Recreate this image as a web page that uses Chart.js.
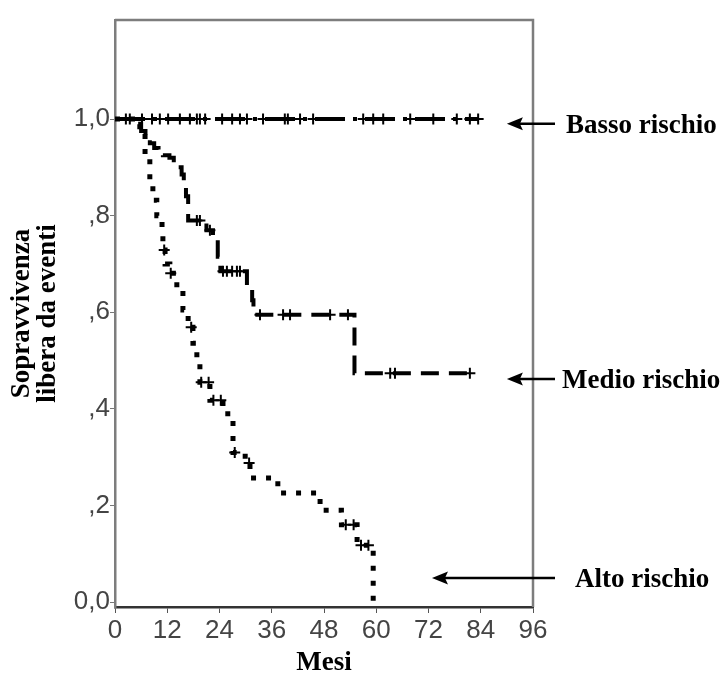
<!DOCTYPE html>
<html>
<head>
<meta charset="utf-8">
<script src="https://cdn.jsdelivr.net/npm/chart.js@4.4.1/dist/chart.umd.min.js"></script>
<style>
  html, body { margin: 0; padding: 0; background: #fff; }
</style>
</head>
<body>
<canvas id="km" width="726" height="681"></canvas>
<script>
// tick labels
const xTicks = [0, 12, 24, 36, 48, 60, 72, 84, 96];
const yTicks = [0, 0.2, 0.4, 0.6, 0.8, 1.0];
const yTickLabels = ['0,0', ',2', ',4', ',6', ',8', '1,0'];

// Basso rischio: nessun evento
const bassoMesi = [0, 83.4];
const bassoSurv = [1, 1];
const bassoCensure = [2.5, 3.4, 6.2, 8.5, 10.3, 12.2, 14.9, 17.2, 18.8, 19.5, 20.7, 24.6, 26.9, 28.7,
  30.3, 34.0, 39.0, 39.7, 42.5, 45.5, 57.0, 59.3, 61.6, 67.8, 73.1, 78.5, 81.5, 83.4];

// Medio rischio
const medioMesi = [0, 5, 6, 7, 8, 9, 10, 11, 12.5, 13.5, 14.5, 15.3, 15.8, 16.3, 16.8, 21, 22.5, 23.6, 24.2,
  30.3, 31.5, 31.8, 55, 82.2];
const medioSurv = [1, 0.99, 0.975, 0.965, 0.95, 0.94, 0.935, 0.925, 0.92, 0.91, 0.9, 0.885, 0.87, 0.84, 0.79,
  0.77, 0.75, 0.715, 0.685, 0.655, 0.625, 0.595, 0.474, 0.474];
const medioCensure = [18.8, 19.5, 21.8, 24.8, 25.7, 26.9, 28.0, 28.7, 33.3, 38.6, 40.2, 49.4, 53.5, 63.2, 64.3, 81.5];

// Alto rischio
const altoMesi = [0, 5.7, 6.9, 8.0, 8.7, 9.6, 10.8, 11.0, 11.5, 12.6, 14.2, 15.6, 16.8, 17.9, 18.8, 19.5,
  21.8, 24.8, 27.1, 29.9, 31.0, 37.4, 47.1, 52.0, 55.6, 59.3];
const altoSurv = [1, 0.977, 0.925, 0.874, 0.832, 0.80, 0.764, 0.729, 0.70, 0.681, 0.646, 0.605, 0.569,
  0.536, 0.501, 0.455, 0.418, 0.39, 0.31, 0.288, 0.257, 0.226, 0.19, 0.16, 0.118, 0];
const altoCensure = [11.3, 12.8, 17.5, 19.8, 21.5, 22.6, 24.3, 27.5, 30.8, 53.0, 54.8, 56.5, 58.2];

const serif = "'Liberation Serif', 'Times New Roman', serif";
const sans = "'Liberation Sans Narrow', 'Liberation Sans', Arial, sans-serif";

function survAt(mesi, surv, t) {
    let s = surv[0];
    for (let i = 0; i < mesi.length; i++) {
        if (mesi[i] <= t) s = surv[i];
    }
    return s;
}

function curve(mesi, surv) {
    return mesi.map((m, i) => ({ x: m, y: surv[i] }));
}

function censure(mesi, surv, cens) {
    return cens.map(t => ({ x: t, y: survAt(mesi, surv, t) }));
}

function stepLine(data, dash, width) {
    return {
        data: data,
        stepped: 'before',
        borderColor: '#000',
        borderWidth: width,
        borderDash: dash,
        borderCapStyle: 'butt',
        pointRadius: 0,
        fill: false
    };
}

function censorMarks(data) {
    return {
        data: data,
        showLine: false,
        pointStyle: 'cross',
        pointRadius: 5.5,
        pointBorderWidth: 2,
        pointBorderColor: '#000',
        pointBackgroundColor: '#000'
    };
}

// labels with arrows on the right side
const etichette = [
    { text: 'Basso rischio', y: 0.99, head: 90, textX: 566 },
    { text: 'Medio rischio', y: 0.462, head: 90, textX: 562 },
    { text: 'Alto rischio', y: 0.05, head: 72.8, textX: 575 }
];

const framePlugin = {
    id: 'frame',
    afterDraw(chart) {
        const { ctx, chartArea } = chart;
        const xs = chart.scales.x;
        const ys = chart.scales.y;
        ctx.save();
        ctx.strokeStyle = '#7d7d7d';
        ctx.lineWidth = 2.5;
        ctx.beginPath();
        ctx.moveTo(chartArea.left, chartArea.top);
        ctx.lineTo(chartArea.right, chartArea.top);
        ctx.lineTo(chartArea.right, chartArea.bottom);
        ctx.stroke();

        etichette.forEach(e => {
            const y = ys.getPixelForValue(e.y);
            const hx = xs.getPixelForValue(e.head);
            const tail = 555;
            ctx.strokeStyle = '#000';
            ctx.fillStyle = '#000';
            ctx.lineWidth = 2.5;
            ctx.beginPath();
            ctx.moveTo(tail, y);
            ctx.lineTo(hx + 10, y);
            ctx.stroke();
            ctx.beginPath();
            ctx.moveTo(hx, y);
            ctx.lineTo(hx + 16, y - 6.5);
            ctx.lineTo(hx + 13, y);
            ctx.lineTo(hx + 16, y + 6.5);
            ctx.closePath();
            ctx.fill();
            ctx.font = 'bold 27px ' + serif;
            ctx.textAlign = 'left';
            ctx.textBaseline = 'middle';
            ctx.fillText(e.text, e.textX, y + 2);
        });
        ctx.restore();
    }
};

new Chart(document.getElementById('km'), {
    type: 'line',
    data: {
        datasets: [
            stepLine(curve(bassoMesi, bassoSurv), [30, 8, 4, 8], 4),
            stepLine(curve(medioMesi, medioSurv), [18, 10], 4),
            stepLine(curve(altoMesi, altoSurv), [5, 10], 5),
            censorMarks(censure(bassoMesi, bassoSurv, bassoCensure)),
            censorMarks(censure(medioMesi, medioSurv, medioCensure)),
            censorMarks(censure(altoMesi, altoSurv, altoCensure))
        ]
    },
    options: {
        responsive: false,
        animation: false,
        layout: { padding: { top: 20, right: 193, left: 0, bottom: 0 } },
        plugins: {
            legend: { display: false },
            tooltip: { enabled: false }
        },
        scales: {
            x: {
                type: 'linear',
                min: 0,
                max: 96,
                afterBuildTicks: s => { s.ticks = xTicks.map(v => ({ value: v })); },
                afterFit: s => { s.height = 74; },
                grid: { drawOnChartArea: false, drawTicks: true, tickLength: 6, color: '#555' },
                border: { display: true, color: '#333', width: 2.5 },
                ticks: { color: '#444', padding: 2, font: { family: sans, size: 26 } },
                title: {
                    display: true,
                    text: 'Mesi',
                    color: '#000',
                    padding: { top: 0, bottom: 4 },
                    font: { family: serif, size: 27, weight: 'bold', lineHeight: 1 }
                }
            },
            y: {
                min: -0.01,
                max: 1.205,
                afterBuildTicks: s => { s.ticks = yTicks.map(v => ({ value: v })); },
                afterFit: s => { s.width = 115; },
                grid: { drawOnChartArea: false, drawTicks: true, tickLength: 5, color: '#777' },
                border: { display: true, color: '#7d7d7d', width: 2.5 },
                ticks: {
                    color: '#444',
                    padding: 0,
                    font: { family: sans, size: 26 },
                    callback: (v, i) => yTickLabels[i]
                },
                title: {
                    display: true,
                    text: ['Sopravvivenza', 'libera da eventi'],
                    color: '#000',
                    padding: { top: 9, bottom: 0 },
                    font: { family: serif, size: 27, weight: 'bold', lineHeight: 0.97 }
                }
            }
        }
    },
    plugins: [framePlugin]
});
</script>
</body>
</html>
